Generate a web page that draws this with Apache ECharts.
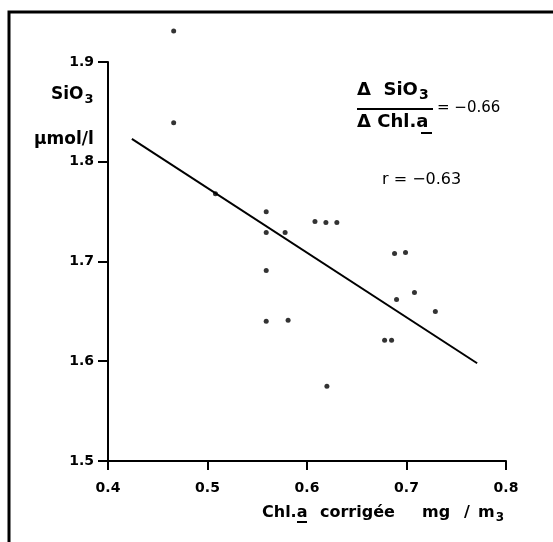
<!DOCTYPE html>
<html>
<head>
<meta charset="utf-8">
<script src="https://cdn.jsdelivr.net/npm/echarts@6/dist/echarts.min.js"></script>
<style>
  html, body { margin: 0; padding: 0; background: #fff; }
  #chart { width: 553px; height: 542px; }
</style>
</head>
<body>
<div id="chart"></div>
<script>
  // Chl.a corrigee (mg/m3) vs SiO3 (umol/l)
  var chlValues = [0.466, 0.466, 0.508, 0.559, 0.559, 0.578, 0.608, 0.619, 0.630, 0.559,
                   0.688, 0.699, 0.690, 0.708, 0.729, 0.559, 0.581, 0.678, 0.685, 0.620]
  var sioValues = [1.931, 1.839, 1.768, 1.750, 1.729, 1.729, 1.740, 1.739, 1.739, 1.691,
                   1.708, 1.709, 1.662, 1.669, 1.650, 1.640, 1.641, 1.621, 1.621, 1.575]
  // regression line end points
  var fitX = [0.424, 0.771]
  var fitY = [1.823, 1.598]

  var xTicks = [0.4, 0.5, 0.6, 0.7, 0.8]
  var yTicks = [1.5, 1.6, 1.7, 1.8, 1.9]

  var points = chlValues.map(function (x, i) { return [x, sioValues[i]] })
  var fitLine = fitX.map(function (x, i) { return [x, fitY[i]] })

  var font = 'DejaVu Sans'
  var chart = echarts.init(document.getElementById('chart'), null, { renderer: 'canvas' })

  function txt(x, y, text, size, bold) {
    return { type: 'text', x: x, y: y, style: {
      text: text, fontFamily: font, fontWeight: bold ? 'bold' : 'normal',
      fontSize: size, fill: '#000', align: 'left', verticalAlign: 'middle' } }
  }
  function richTxt(x, y, main, sub, size) {
    return { type: 'text', x: x, y: y, style: {
      text: '{b|' + main + '}{s|' + sub + '}', align: 'left', verticalAlign: 'middle',
      rich: {
        b: { fontFamily: font, fontWeight: 'bold', fontSize: size, fill: '#000' },
        s: { fontFamily: font, fontWeight: 'bold', fontSize: size - 4, fill: '#000', padding: [10, 0, 0, 1] }
      } } }
  }
  function bar(x1, y1, x2, y2, w) {
    return { type: 'line', shape: { x1: x1, y1: y1, x2: x2, y2: y2 },
      style: { stroke: '#000', lineWidth: w || 2 } }
  }

  chart.setOption({
    animation: false,
    backgroundColor: '#fff',
    grid: { left: 108, top: 62, right: 47, bottom: 81 },
    xAxis: {
      type: 'value',
      min: xTicks[0], max: xTicks[xTicks.length - 1], interval: 0.1,
      axisLine: { lineStyle: { color: '#000', width: 2 } },
      axisTick: { length: 9, lineStyle: { color: '#000', width: 2 } },
      splitLine: { show: false },
      axisLabel: {
        margin: 20, color: '#000', fontFamily: font, fontWeight: 'bold', fontSize: 14,
        formatter: function (v) { return v.toFixed(1) }
      }
    },
    yAxis: {
      type: 'value',
      min: yTicks[0], max: yTicks[yTicks.length - 1], interval: 0.1,
      axisLine: { lineStyle: { color: '#000', width: 2 } },
      axisTick: { length: 10, lineStyle: { color: '#000', width: 2 } },
      splitLine: { show: false },
      axisLabel: {
        margin: 14, color: '#000', fontFamily: font, fontWeight: 'bold', fontSize: 14,
        formatter: function (v) { return v.toFixed(1) }
      }
    },
    series: [
      {
        type: 'line',
        data: fitLine,
        symbol: 'none',
        lineStyle: { color: '#000', width: 2 },
        silent: true
      },
      {
        type: 'scatter',
        data: points,
        symbol: 'circle',
        symbolSize: 5,
        clip: false,
        itemStyle: { color: '#000' }
      }
    ],
    graphic: [
      // frame of the scanned figure
      { type: 'polyline', shape: { points: [[9, 542], [9, 12], [553, 12]] },
        style: { stroke: '#000', lineWidth: 3, fill: null } },
      // y axis name
      richTxt(51, 95, 'SiO', '3', 17),
      txt(34, 140, 'μmol/l', 17, true),
      // x axis name, words spread like the original lettering
      txt(262, 513, 'Chl.a', 16, true),
      bar(297, 522, 307, 522),
      txt(320, 513, 'corrigée', 16, true),
      txt(422, 513, 'mg', 16, true),
      txt(464, 513, '/', 16, true),
      richTxt(478, 513, 'm', '3', 16),
      // slope annotation
      richTxt(357, 90, 'Δ  SiO', '3', 18),
      bar(357, 109, 433, 109),
      txt(357, 122, 'Δ Chl.a', 18, true),
      bar(421, 133, 432, 133),
      txt(437, 108, '= −0.66', 15, false),
      txt(382, 180, 'r = −0.63', 16, false)
    ]
  })
</script>
</body>
</html>
